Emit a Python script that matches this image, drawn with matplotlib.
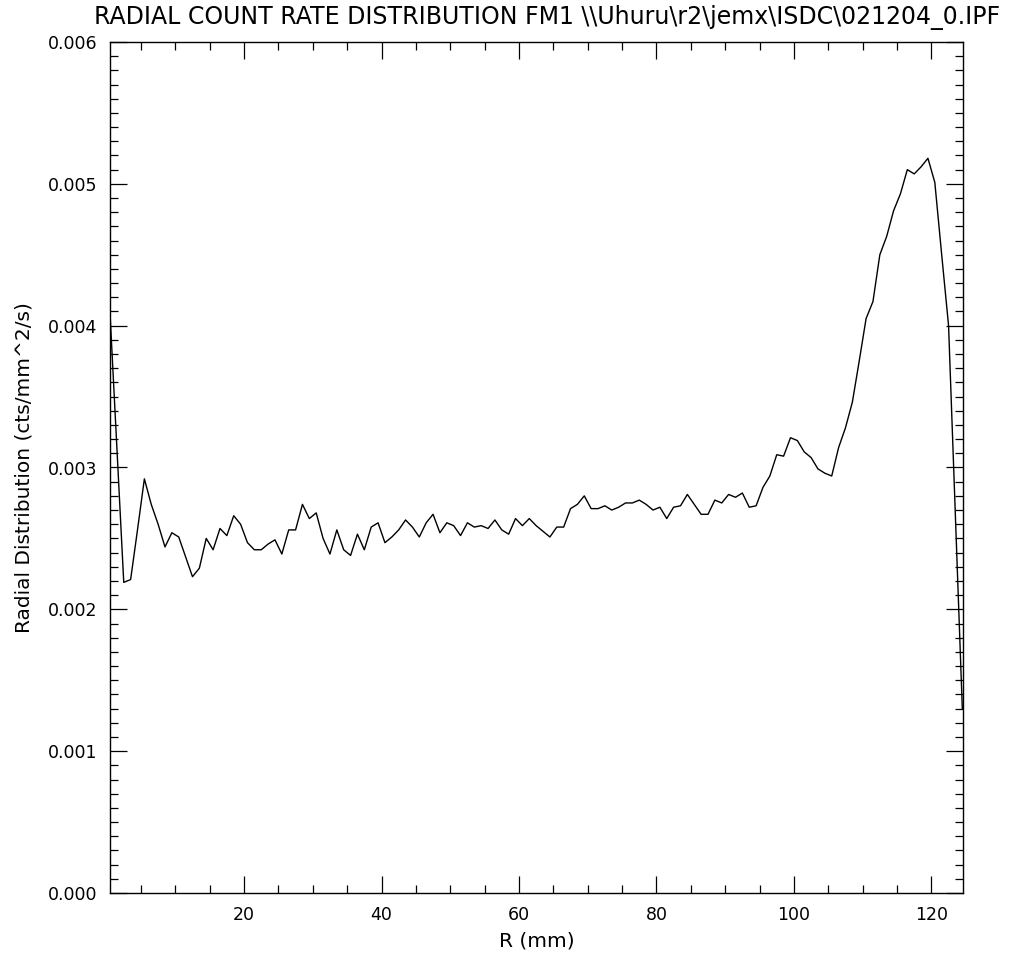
import numpy as np
import matplotlib
matplotlib.use("Agg")
import matplotlib.pyplot as plt
from matplotlib.ticker import MultipleLocator, FormatStrFormatter

plt.rcParams['font.family'] = ['DejaVu Sans']
plt.rcParams['font.weight'] = 'normal'

title = r"RADIAL COUNT RATE DISTRIBUTION FM1 \\Uhuru\r2\jemx\ISDC\021204_0.IPF"
xlabel = "R (mm)"
ylabel = "Radial Distribution (cts/mm^2/s)"

# radius bin centres (mm)
r_mm = np.arange(0.5, 125.0, 1.0)

# radial count rate (units of 1e-3 cts/mm^2/s)
rate_e3 = [
    4.09, 3.14, 2.19, 2.21, 2.56, 2.92, 2.74, 2.60, 2.44, 2.54,
    2.51, 2.37, 2.23, 2.29, 2.50, 2.42, 2.57, 2.52, 2.66, 2.60,
    2.47, 2.42, 2.42, 2.46, 2.49, 2.39, 2.56, 2.56, 2.74, 2.64,
    2.68, 2.50, 2.39, 2.56, 2.42, 2.38, 2.53, 2.42, 2.58, 2.61,
    2.47, 2.51, 2.56, 2.63, 2.58, 2.51, 2.61, 2.67, 2.54, 2.61,
    2.59, 2.52, 2.61, 2.58, 2.59, 2.57, 2.63, 2.56, 2.53, 2.64,
    2.59, 2.64, 2.59, 2.55, 2.51, 2.58, 2.58, 2.71, 2.74, 2.80,
    2.71, 2.71, 2.73, 2.70, 2.72, 2.75, 2.75, 2.77, 2.74, 2.70,
    2.72, 2.64, 2.72, 2.73, 2.81, 2.74, 2.67, 2.67, 2.77, 2.75,
    2.81, 2.79, 2.82, 2.72, 2.73, 2.86, 2.94, 3.09, 3.08, 3.21,
    3.19, 3.11, 3.07, 2.99, 2.96, 2.94, 3.14, 3.28, 3.46, 3.75,
    4.05, 4.17, 4.50, 4.63, 4.81, 4.93, 5.10, 5.07, 5.12, 5.18,
    5.01, 4.50, 4.00, 2.65, 1.30,
]
rate = np.array(rate_e3) * 1e-3

fig = plt.figure(figsize=(10.31, 9.55), dpi=100)
ax = fig.add_axes([110/1031, 1 - 893/955, (963 - 110)/1031, (893 - 42)/955])
ax.plot(r_mm, rate, color='black', lw=1.0)

ax.set_xlim(0.5, 124.6)
ax.set_ylim(0.0, 0.006)
ax.xaxis.set_major_locator(MultipleLocator(20))
ax.xaxis.set_minor_locator(MultipleLocator(5))
ax.yaxis.set_major_locator(MultipleLocator(0.001))
ax.yaxis.set_minor_locator(MultipleLocator(0.0001))
ax.yaxis.set_major_formatter(FormatStrFormatter('%.3f'))

ax.tick_params(which='both', direction='in', top=True, right=True, width=0.9, color='black')
ax.tick_params(which='major', length=12, labelsize=12.5, pad=9)
ax.tick_params(which='minor', length=6)
for s in ax.spines.values():
    s.set_linewidth(1.0)

ax.set_xlabel(xlabel, fontsize=14.5, labelpad=6)
ax.set_ylabel(ylabel, fontsize=14.5, labelpad=10)
fig.text(547/1031, 1 - 17/955, title, ha='center', va='center', fontsize=17)

fig.savefig("out.png", dpi=100)
